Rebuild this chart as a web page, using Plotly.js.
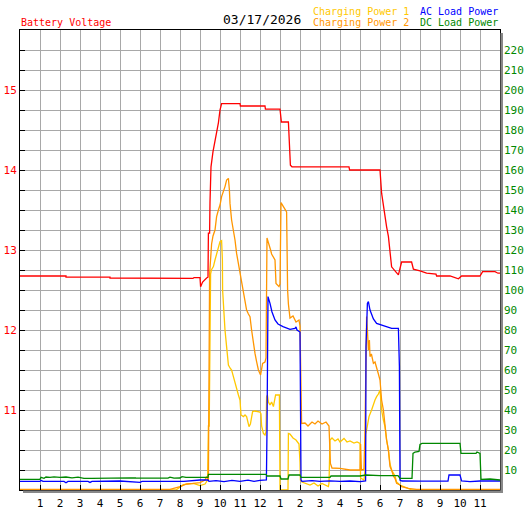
<!DOCTYPE html>
<html>
<head>
<meta charset="utf-8">
<script src="https://cdn.plot.ly/plotly-3.0.1.min.js"></script>
<style>html,body{margin:0;padding:0;background:#fff;}#chart{width:527px;height:510px;}</style>
</head>
<body>
<div id="chart"></div>
<script>
// ---- data (hour of day, value) ----
const hourTicks = [1,2,3,4,5,6,7,8,9,10,11,12,13,14,15,16,17,18,19,20,21,22,23];
const hourLabels = ['1','2','3','4','5','6','7','8','9','10','11','12','1','2','3','4','5','6','7','8','9','10','11'];
const voltTickLabels = ['11','12','13','14','15'];
const powerTicks = [10,20,30,40,50,60,70,80,90,100,110,120,130,140,150,160,170,180,190,200,210,220];

const batteryVoltage = [[0,12.675],[2.3,12.675],[2.3,12.66],[4.5,12.66],[4.5,12.65],[6.5,12.65],[6.5,12.645],[8.65,12.645],[8.7,12.655],[9.0,12.655],[9.03,12.54],[9.13,12.6],[9.33,12.65],[9.4,12.66],[9.42,13.21],[9.48,13.21],[9.5,13.6],[9.55,14.04],[9.65,14.23],[9.73,14.33],[9.83,14.48],[9.92,14.59],[10.0,14.75],[10.08,14.83],[11.0,14.83],[11.02,14.8],[12.25,14.8],[12.27,14.76],[13.0,14.76],[13.07,14.6],[13.42,14.6],[13.47,14.3],[13.52,14.06],[13.6,14.04],[16.45,14.04],[16.48,14.0],[18.0,14.0],[18.08,13.71],[18.17,13.54],[18.33,13.29],[18.42,13.17],[18.5,13.0],[18.58,12.79],[18.75,12.74],[18.92,12.69],[19.08,12.85],[19.58,12.85],[19.67,12.76],[20.0,12.74],[20.33,12.71],[20.8,12.7],[20.83,12.675],[21.5,12.675],[21.92,12.64],[22.08,12.675],[23.0,12.675],[23.13,12.73],[23.75,12.73],[23.9,12.71],[24,12.71]];

const chargingPower1 = [[0,0],[7.8,0],[8.17,2.7],[8.67,3.3],[9.0,2.2],[9.25,3],[9.38,5],[9.42,32],[9.46,32],[9.53,108],[9.57,110],[9.67,111.7],[9.75,115],[9.83,118.3],[9.92,121],[10.0,124.2],[10.08,124.7],[10.12,115],[10.13,100],[10.17,91.7],[10.25,80],[10.33,71.7],[10.42,62.5],[10.5,61],[10.58,60],[10.67,56.7],[10.75,53.3],[10.83,50],[10.92,47.5],[11.0,45],[11.03,40],[11.05,37.5],[11.17,36.7],[11.25,37.5],[11.33,36.7],[11.38,34.2],[11.45,31.7],[11.52,33],[11.58,35.8],[11.63,39.2],[11.75,39.5],[11.92,39.3],[12.0,39],[12.05,38],[12.08,32],[12.17,28.3],[12.25,27.5],[12.3,29],[12.33,46.7],[12.37,47.5],[12.42,44],[12.5,42.5],[12.58,44],[12.67,41.7],[12.75,45],[12.78,47.5],[12.97,47.5],[13.0,0],[13.4,0],[13.42,28.3],[13.5,28],[13.65,26],[13.8,25],[13.95,23],[14.0,14],[14.02,5],[14.1,4],[14.3,3.3],[14.5,2.5],[14.7,3.5],[14.9,2],[15.1,3.3],[15.3,2.5],[15.42,1.7],[15.45,3.5],[15.5,25],[15.6,26],[15.75,24.5],[15.9,25.5],[16.0,24],[16.2,25.8],[16.35,24],[16.5,24.5],[16.7,23.5],[16.85,24],[17.0,23.3],[17.03,6],[17.2,5],[17.25,10],[17.28,28],[17.33,30],[17.38,33.3],[17.45,36.7],[17.58,40],[17.67,43.3],[17.75,45],[17.83,46.7],[17.92,48],[18.0,50],[18.05,45],[18.08,40],[18.17,35],[18.25,31.7],[18.33,25],[18.42,20],[18.5,13],[18.58,10],[18.75,7],[18.83,4],[19.0,2.5],[19.17,1.7],[19.5,0.3],[19.6,0],[24,0]];

const chargingPower2 = [[0,0.3],[7.5,0.3],[8.0,1.7],[8.33,3],[8.67,3.3],[9.0,3.7],[9.25,5],[9.33,6.7],[9.42,5],[9.45,85],[9.48,108],[9.58,123],[9.65,127],[9.75,130],[9.83,136.7],[9.92,140],[10.0,142.5],[10.08,146.7],[10.17,149],[10.25,151.7],[10.33,155],[10.42,155.8],[10.47,150],[10.5,143.3],[10.58,135],[10.67,130],[10.75,125],[10.83,118.3],[10.92,113.3],[11.0,107.5],[11.08,104],[11.17,99],[11.25,95],[11.33,90],[11.42,88],[11.5,86.7],[11.58,80],[11.67,72.5],[11.75,68.3],[11.83,64.2],[11.92,60],[12.03,57.5],[12.08,60],[12.13,63.3],[12.25,64],[12.3,66],[12.35,126],[12.42,124],[12.53,120],[12.58,118],[12.67,116.7],[12.75,115],[12.8,103.3],[12.95,101.7],[13.0,103],[13.03,143.3],[13.05,143.7],[13.17,141.7],[13.25,140.3],[13.33,139],[13.38,100],[13.42,93],[13.5,86],[13.65,87],[13.8,84],[13.95,85],[14.0,82],[14.05,41.7],[14.08,33.3],[14.25,33.5],[14.4,32],[14.6,34],[14.75,33],[14.9,34.5],[15.1,33],[15.3,34],[15.45,32],[15.52,13.3],[15.6,11],[16.0,10.8],[16.5,10],[17.0,10],[17.03,23],[17.07,10],[17.2,10.5],[17.25,30],[17.33,86.7],[17.37,80],[17.42,70],[17.47,75],[17.5,66.7],[17.57,68],[17.67,63.3],[17.75,64],[17.83,61.7],[17.92,58],[18.0,55],[18.08,45],[18.17,40],[18.25,31.7],[18.33,25],[18.42,20],[18.5,11.7],[18.58,10],[18.67,7],[18.75,5.8],[18.83,3.3],[19.0,2.5],[19.08,1.7],[19.42,0.8],[19.83,0.3],[24,0.3]];

const acLoadPower = [[0,4.3],[1.0,4.3],[1.05,4.8],[1.15,4.3],[2.2,4.3],[2.3,3.6],[2.4,4.3],[3.4,4.3],[3.5,3.8],[3.6,4.3],[5.0,4.5],[5.6,4.3],[6.0,3.8],[6.1,4.3],[7.0,4.5],[7.5,4.3],[8.2,4.3],[8.5,4.7],[9.0,5.0],[9.4,5.0],[9.45,4.3],[9.8,4.7],[10.2,4.2],[10.6,4.8],[11.0,4.3],[11.4,4.9],[11.7,4.3],[12.0,4.8],[12.3,4.7],[12.32,5],[12.35,30],[12.4,96.7],[12.5,93.3],[12.6,89],[12.75,85],[12.9,83],[13.15,81.7],[13.5,80.3],[13.75,80.8],[13.8,81.5],[13.85,80],[13.95,79.2],[14.0,79],[14.05,5],[14.1,4.3],[14.6,4.7],[15.0,4.3],[15.5,4.6],[16.0,4.3],[16.5,4.5],[17.0,4.2],[17.28,4.5],[17.3,71.7],[17.37,93.3],[17.42,94.2],[17.5,90],[17.58,87.5],[17.67,85.5],[17.83,83.3],[18.08,82.5],[18.33,81.7],[18.58,80.8],[18.92,80.8],[18.97,61.7],[19.0,5],[19.1,4.5],[20.0,4.4],[20.6,4.5],[21.4,4.5],[21.45,7.5],[22.0,7.5],[22.08,4.5],[22.5,4.2],[23.0,4.5],[23.5,4.4],[24,4.5]];

const dcLoadPower = [[0,5.3],[1.0,5.3],[1.05,6.3],[1.2,5.8],[1.3,6.5],[1.5,6.3],[1.7,6.6],[2.0,6.3],[2.3,6.5],[2.6,6.1],[2.9,6.4],[3.2,5.8],[3.6,5.8],[4.0,5.9],[4.5,5.8],[5.0,5.9],[5.2,6.3],[5.5,6.1],[5.8,6.0],[6.2,6.0],[6.5,5.8],[7.0,5.9],[7.4,5.9],[7.5,6.4],[7.7,5.9],[8.0,6.0],[8.1,6.7],[8.3,6.3],[9.4,6.3],[9.42,7.8],[10.0,8.0],[10.5,7.8],[11.0,7.8],[11.5,7.9],[12.0,8.0],[12.3,7.8],[12.35,7.0],[13.0,7.0],[13.05,5.5],[13.4,5.5],[13.45,7.5],[14.0,7.5],[14.05,6.3],[15.5,6.3],[15.55,7.0],[17.0,7.0],[17.3,7.5],[18.0,7.2],[18.9,7.2],[19.0,5.8],[19.6,5.8],[19.65,18.3],[19.75,19],[19.95,19.3],[20.0,22.8],[20.1,23.3],[22.0,23.3],[22.05,18.3],[22.8,18.3],[22.85,19],[23.0,18.3],[23.05,5.3],[23.5,5.5],[24,5.0]];

// ---- build ----
const voltTickVals = [];
const voltTickText = [];
for (let k = 1; k <= 22; k++) {
  const v = 10 + k * 0.25;
  voltTickVals.push(v);
  voltTickText.push(Number.isInteger(v) ? voltTickLabels[v - 11] : '');
}
function mk(arr, color, yaxis) {
  return {x: arr.map(p => p[0]), y: arr.map(p => p[1]), type: 'scatter', mode: 'lines',
          line: {color: color, width: 1.3}, yaxis: yaxis, hoverinfo: 'skip'};
}
const RED = '#FF0000', C1 = '#FFC800', C2 = '#FF9600', BLUE = '#0000FF', GREEN = '#008800';
const traces = [
  mk(batteryVoltage, RED, 'y'),
  mk(chargingPower1, C1, 'y2'),
  mk(chargingPower2, C2, 'y2'),
  mk(acLoadPower, BLUE, 'y2'),
  mk(dcLoadPower, GREEN, 'y2')
];
const FONT = 'DejaVu Sans Mono';
const PW = 480, PH = 460;
function px(x) { return (x - 20) / PW; }
function py(y) { return (490 - y) / PH; }
function ann(text, x, y, color, size, anchor) {
  return {text: text, xref: 'paper', yref: 'paper', x: px(x), y: py(y), xanchor: anchor || 'left',
          yanchor: 'middle', showarrow: false, font: {family: FONT, size: size || 10, color: color}};
}
const layout = {
  width: 527, height: 510,
  margin: {l: 20, r: 27, t: 30, b: 20, pad: 0},
  paper_bgcolor: '#FFFFFF', plot_bgcolor: '#FFFFFF',
  showlegend: false,
  font: {family: FONT, size: 11, color: '#000'},
  xaxis: {range: [0, 24], tickvals: hourTicks, ticktext: hourLabels, ticks: 'inside', ticklen: 5,
          tickcolor: '#000', tickwidth: 1, showgrid: true, gridcolor: '#A8A8A8', gridwidth: 1,
          showline: true, linecolor: '#000', linewidth: 1, mirror: true, zeroline: false,
          ticklabelstandoff: 3,
          tickfont: {family: FONT, size: 11, color: '#000'}, fixedrange: true},
  yaxis: {range: [10, 15.75], tickvals: voltTickVals, ticktext: voltTickText, ticks: 'inside', ticklen: 5,
          tickcolor: '#000', tickwidth: 1, showgrid: true, gridcolor: '#A8A8A8', gridwidth: 1,
          showline: true, linecolor: '#000', linewidth: 1, mirror: true, zeroline: false,
          tickfont: {family: FONT, size: 11, color: RED}, fixedrange: true},
  yaxis2: {range: [0, 230], overlaying: 'y', side: 'right', tickvals: powerTicks,
           ticktext: powerTicks.map(String), ticks: '', showgrid: false, zeroline: false, showline: false,
           ticklabelstandoff: 3,
           tickfont: {family: FONT, size: 11, color: GREEN}, fixedrange: true},
  shapes: [
    {type: 'rect', xref: 'paper', yref: 'paper', x0: 1 + 0.5 / PW, x1: 1 + 3 / PW, y0: -3 / PH, y1: 1 - 3 / PH,
     fillcolor: '#888888', line: {width: 0}},
    {type: 'rect', xref: 'paper', yref: 'paper', x0: 3 / PW, x1: 1 + 3 / PW, y0: -3 / PH, y1: -0.5 / PH,
     fillcolor: '#888888', line: {width: 0}}
  ],
  annotations: [
    ann('Battery Voltage', 19, 23, RED, 10),
    ann('03/17/2026', 221, 19.5, '#000', 13),
    ann('Charging Power 1', 311, 11.5, C1, 10),
    ann('Charging Power 2', 311, 23, C2, 10),
    ann('AC Load Power', 418, 11.5, BLUE, 10),
    ann('DC Load Power', 418, 23, GREEN, 10)
  ]
};
Plotly.newPlot('chart', traces, layout, {displayModeBar: false, staticPlot: true});
</script>
</body>
</html>
